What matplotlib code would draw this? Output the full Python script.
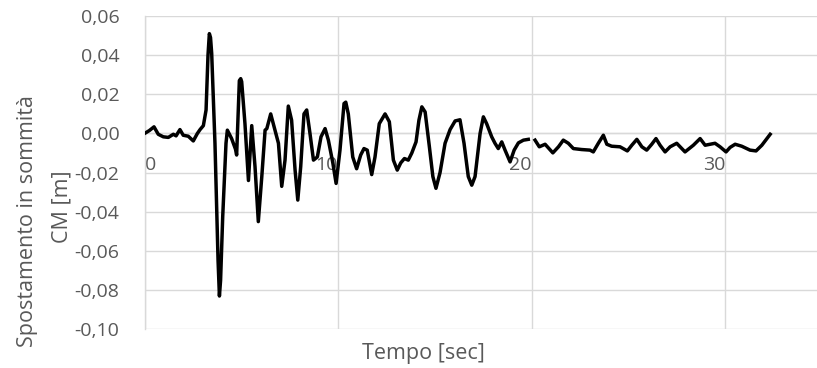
import matplotlib
matplotlib.use('Agg')
import matplotlib.pyplot as plt
import numpy as np

# time [s] and top CM displacement [m]
tempo = [0.00, 0.25, 0.49, 0.71, 0.97, 1.23, 1.49, 1.63, 1.83, 2.00, 2.26, 2.52, 2.73, 2.87,
         3.04, 3.18, 3.28, 3.35, 3.41, 3.47, 3.64, 3.80, 3.87, 3.93, 4.04, 4.21, 4.28, 4.50,
         4.70, 4.76, 4.90, 4.97, 5.02, 5.19, 5.37, 5.54, 5.71, 5.88, 6.06, 6.23, 6.32, 6.52,
         6.74, 6.92, 7.09, 7.26, 7.43, 7.60, 7.78, 7.92, 8.07, 8.24, 8.38, 8.55, 8.73, 8.93,
         9.12, 9.33, 9.50, 9.73, 9.90, 10.10, 10.31, 10.40, 10.53, 10.76, 10.96, 11.17, 11.34,
         11.51, 11.74, 11.91, 12.13, 12.43, 12.65, 12.86, 13.06, 13.24, 13.43, 13.63, 13.81,
         14.03, 14.18, 14.33, 14.50, 14.72, 14.90, 15.06, 15.27, 15.53, 15.79, 16.05, 16.30,
         16.51, 16.73, 16.91, 17.08, 17.34, 17.51, 17.68, 17.94, 18.11, 18.28, 18.46, 18.63,
         18.89, 19.10, 19.32, 19.58, 19.83, 20.00, 20.18, 20.40, 20.70, 21.10, 21.39, 21.64,
         21.90, 22.16, 22.59, 23.02, 23.19, 23.45, 23.71, 23.89, 24.14, 24.57, 24.95, 25.18,
         25.44, 25.70, 25.95, 26.21, 26.43, 26.64, 26.90, 27.16, 27.50, 27.93, 28.36, 28.71,
         28.97, 29.22, 29.48, 29.74, 30.05, 30.26, 30.52, 30.86, 31.29, 31.60, 31.90, 32.16,
         32.33]
spost = [0.000, 0.0015, 0.0034, -0.0004, -0.0017, -0.002, -0.0004, -0.0012, 0.002, -0.0009,
         -0.0014, -0.0038, 0.000, 0.002, 0.004, 0.012, 0.040, 0.051, 0.049, 0.041, -0.005,
         -0.065, -0.083, -0.075, -0.0425, -0.005, 0.0017, -0.0026, -0.008, -0.011, 0.027, 0.028,
         0.0265, 0.005, -0.024, 0.004, -0.017, -0.045, -0.022, 0.0017, 0.0025, 0.010, 0.0017,
         -0.005, -0.027, -0.0136, 0.014, 0.0068, -0.0187, -0.034, -0.017, 0.010, 0.012, 0.000,
         -0.0136, -0.012, -0.0017, 0.0025, -0.0034, -0.015, -0.0255, -0.0085, 0.0153, 0.016,
         0.010, -0.012, -0.018, -0.011, -0.0077, -0.0085, -0.021, -0.012, 0.005, 0.010, 0.006,
         -0.0136, -0.0187, -0.015, -0.0128, -0.0136, -0.010, -0.0043, 0.0068, 0.0136, 0.011,
         -0.0068, -0.022, -0.028, -0.020, -0.005, 0.002, 0.0064, 0.007, -0.005, -0.022, -0.0264,
         -0.022, 0.000, 0.0085, 0.005, -0.0017, -0.005, -0.0077, -0.0043, -0.0085, -0.0145,
         -0.0085, -0.0048, -0.0034, -0.003, np.nan, -0.0034, -0.0068, -0.0055, -0.0099, -0.0068,
         -0.0034, -0.005, -0.0077, -0.0082, -0.0085, -0.0094, -0.005, -0.0009, -0.0055, -0.0065,
         -0.0068, -0.0089, -0.006, -0.003, -0.0068, -0.0085, -0.0055, -0.0026, -0.006, -0.0094,
         -0.0068, -0.005, -0.0094, -0.006, -0.0026, -0.006, -0.0055, -0.005, -0.0068, -0.0094,
         -0.0071, -0.0055, -0.0065, -0.0085, -0.0089, -0.006, -0.0026, -0.0004]

x_ticks = [0, 10, 20, 30]
y_ticks = [0.06, 0.04, 0.02, 0.00, -0.02, -0.04, -0.06, -0.08, -0.10]

plt.rcParams['font.family'] = ['Open Sans', 'DejaVu Sans']
grey = '#d9d9d9'
txt = '#595959'

fig = plt.figure(figsize=(8.17, 3.68), dpi=100)
ax = fig.add_axes([0.1769, 0.1052, 0.8231, 0.8513])

# move the x axis to y=0 first (this resets the tick objects)
for s in ['top', 'right']:
    ax.spines[s].set_visible(False)
ax.spines['bottom'].set_position(('data', 0))
ax.spines['bottom'].set_color(grey)
ax.spines['bottom'].set_linewidth(1.0)
ax.spines['left'].set_color(grey)
ax.spines['left'].set_linewidth(1.0)

ax.plot(tempo, spost, color='black', lw=2.5, zorder=3)

ax.set_xlim(0, 34.75)
ax.set_ylim(-0.10, 0.06)
ax.set_yticks(y_ticks)
ax.set_yticklabels([f'{v:.2f}'.replace('.', ',') for v in y_ticks], color=txt, fontsize=14)
ax.set_xticks(x_ticks)
ax.set_xticklabels([str(v) for v in x_ticks], color=txt, fontsize=14)
for lab, v in zip(ax.get_xticklabels(), x_ticks):
    lab.set_horizontalalignment('left' if v == 0 else 'right')
ax.tick_params(axis='both', length=0)
ax.tick_params(axis='y', pad=18)
ax.tick_params(axis='x', pad=16)

ax.grid(True, color=grey, lw=1.0, zorder=0)

fig.text(28 / 817, 1 - 221 / 368, 'Spostamento in sommità', rotation=90,
         ha='center', va='center', fontsize=15.5, color=txt)
fig.text(62 / 817, 1 - 207 / 368, 'CM [m]', rotation=90,
         ha='center', va='center', fontsize=15.5, color=txt)
fig.text(423 / 817, 1 - 353 / 368, 'Tempo [sec]', ha='center', va='center',
         fontsize=15.5, color=txt)

fig.savefig('out.png', dpi=100)
